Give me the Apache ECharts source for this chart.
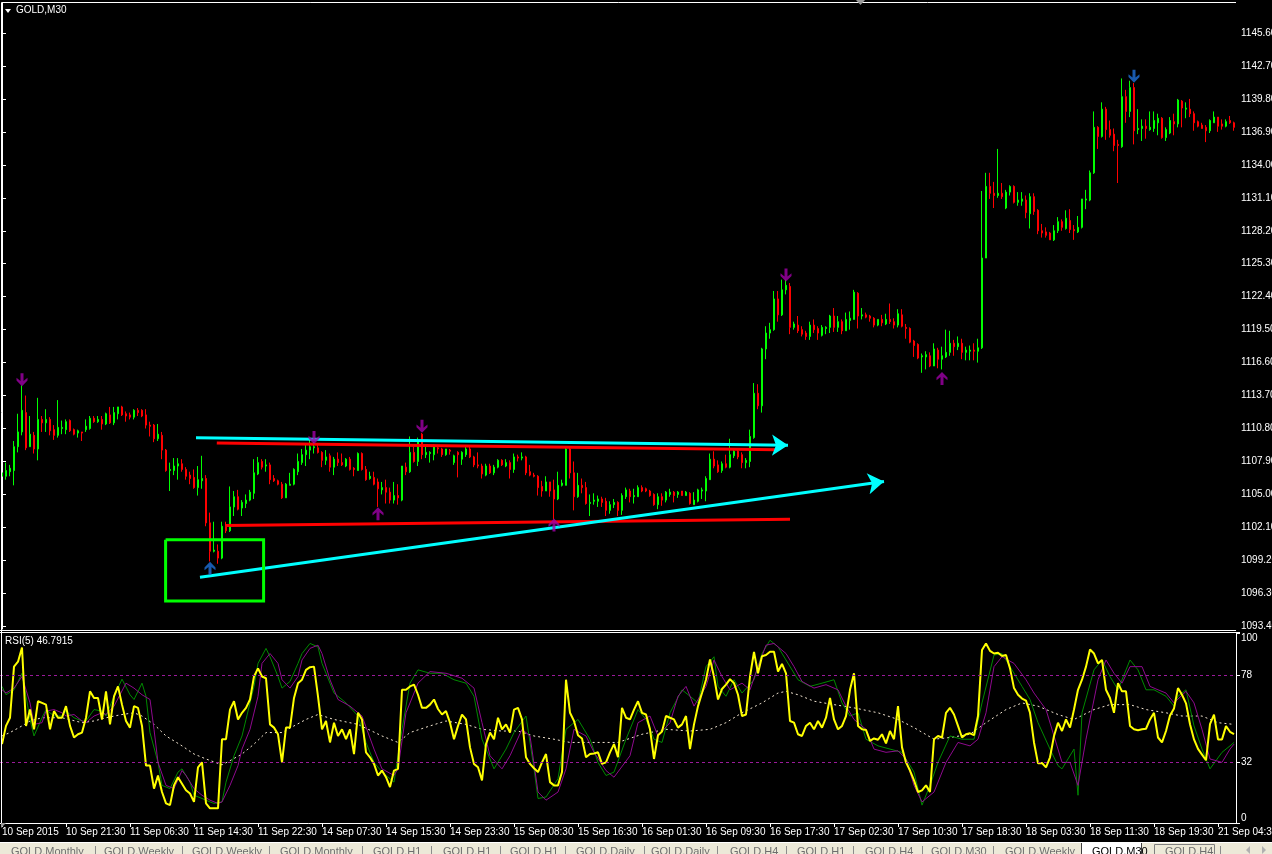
<!DOCTYPE html>
<html><head><meta charset="utf-8">
<script src="https://cdn.jsdelivr.net/npm/echarts@6/dist/echarts.min.js"></script>
<style>html,body{margin:0;padding:0;background:#000;overflow:hidden}#c{width:1272px;height:854px}</style>
</head><body><div id="c"></div>
<script>
// ---------- DATA ----------
const timeLabels = ['10 Sep 2015','10 Sep 21:30','11 Sep 06:30','11 Sep 14:30','11 Sep 22:30','14 Sep 07:30','14 Sep 15:30','14 Sep 23:30','15 Sep 08:30','15 Sep 16:30','16 Sep 01:30','16 Sep 09:30','16 Sep 17:30','17 Sep 02:30','17 Sep 10:30','17 Sep 18:30','18 Sep 03:30','18 Sep 11:30','18 Sep 19:30','21 Sep 04:30'];
const priceTicks = [1093.4,1096.3,1099.2,1102.1,1105.0,1107.9,1110.8,1113.7,1116.6,1119.5,1122.4,1125.3,1128.2,1131.1,1134.0,1136.9,1139.8,1142.7,1145.6];
const rsiTicks = [0,32,78,100];
const rsiLevels = [78,32];

const opens = [
1106.6,1106.6,1107.0,1107.1,1109.2,1110.5,1112.2,1109.2,1110.2,1109.0,
1111.6,1111.3,1111.6,1110.7,1110.2,1110.8,1110.7,1111.5,1110.7,1110.4,
1110.5,1110.7,1110.8,1111.7,1111.4,1111.6,1111.2,1112.0,1111.3,1112.1,
1112.7,1112.1,1112.0,1111.8,1112.4,1112.4,1112.0,1111.1,1111.1,1109.9,
1110.2,1108.9,1107.1,1107.1,1107.5,1107.7,1107.2,1106.7,1106.5,1105.6,
1106.2,1106.4,1102.5,1100.0,1100.0,1099.4,1102.2,1101.8,1103.9,1104.8,
1103.8,1104.2,1104.5,1105.1,1106.8,1107.9,1107.5,1107.6,1106.4,1106.2,
1105.9,1104.7,1105.8,1105.9,1107.0,1107.8,1108.5,1108.9,1109.1,1109.1,
1108.7,1108.0,1108.4,1107.4,1108.1,1107.8,1107.5,1108.1,1107.3,1107.1,
1108.6,1107.2,1106.4,1106.5,1106.1,1105.4,1105.6,1105.2,1104.5,1104.9,
1104.5,1107.4,1107.0,1108.7,1107.9,1110.3,1108.5,1108.6,1108.5,1109.1,
1109.0,1108.5,1108.9,1107.8,1108.7,1108.1,1108.5,1109.0,1108.3,1107.6,
1107.5,1106.7,1107.5,1106.9,1107.4,1108.0,1107.5,1107.8,1107.2,1108.3,
1108.2,1108.3,1107.0,1106.7,1106.6,1105.7,1105.3,1106.1,1105.4,1104.6,
1105.8,1105.8,1109.0,1106.9,1104.8,1105.8,1105.6,1104.2,1104.4,1104.4,
1104.6,1104.4,1103.6,1104.1,1104.3,1103.6,1104.8,1105.3,1104.8,1104.8,
1105.6,1105.5,1105.3,1105.0,1104.1,1104.8,1104.5,1105.0,1105.2,1105.0,
1105.3,1104.9,1105.1,1104.1,1104.4,1105.3,1105.3,1106.3,1108.1,1107.6,
1107.1,1107.7,1107.4,1108.4,1108.8,1108.5,1107.8,1107.9,1110.0,1113.9,
1112.8,1117.8,1119.2,1119.5,1122.2,1120.8,1123.0,1123.3,1119.7,1119.9,
1119.5,1119.2,1118.9,1119.9,1119.6,1119.0,1119.6,1119.7,1120.7,1119.7,
1120.2,1119.4,1120.3,1120.4,1122.7,1120.7,1120.8,1120.7,1120.5,1119.9,
1120.4,1120.0,1120.4,1120.2,1119.9,1120.8,1119.7,1119.6,1118.5,1118.2,
1117.1,1117.1,1117.2,1116.3,1117.7,1116.9,1117.1,1117.5,1118.3,1118.0,
1118.3,1117.5,1117.6,1117.7,1117.6,1117.9,1125.8,1132.1,1131.5,1131.3,
1131.5,1130.2,1131.6,1132.1,1130.7,1130.8,1130.9,1129.7,1131.2,1130.0,
1128.2,1128.1,1128.0,1127.4,1128.2,1129.0,1128.4,1129.1,1128.3,1128.1,
1128.5,1130.9,1130.9,1133.3,1137.3,1136.5,1138.9,1137.1,1136.7,1135.8,
1135.6,1140.0,1138.7,1140.8,1137.1,1137.2,1137.4,1137.1,1137.2,1137.7,
1138.1,1136.4,1136.8,1137.8,1137.6,1139.6,1138.9,1138.9,1138.5,1137.8,
1137.5,1137.3,1137.0,1137.7,1138.2,1137.6,1137.4,1137.9,1137.7];

const highs = [
1107.3,1107.8,1107.6,1109.7,1112.1,1114.6,1113.7,1111.9,1110.5,1113.5,
1111.9,1112.5,1111.8,1111.1,1113.3,1111.5,1111.6,1111.6,1110.8,1110.7,
1110.5,1111.6,1111.9,1111.9,1111.9,1111.9,1112.2,1112.7,1112.7,1112.7,
1112.8,1112.3,1112.2,1112.5,1112.6,1112.5,1112.5,1111.4,1111.2,1111.2,
1110.5,1109.0,1107.8,1108.2,1108.2,1108.1,1107.4,1107.0,1107.2,1107.5,
1108.4,1106.7,1103.4,1102.6,1100.6,1102.6,1102.6,1105.7,1105.3,1105.4,
1104.5,1105.0,1105.4,1108.1,1108.3,1108.1,1108.1,1107.8,1106.7,1106.3,
1106.1,1106.0,1106.9,1107.3,1108.6,1109.0,1109.5,1109.8,1109.6,1109.4,
1108.8,1108.9,1108.6,1108.3,1108.7,1108.6,1108.2,1108.3,1107.4,1108.7,
1108.7,1107.5,1107.0,1107.0,1106.4,1106.1,1106.3,1105.6,1106.1,1105.9,
1107.5,1107.8,1110.1,1109.2,1110.0,1110.4,1109.2,1108.8,1109.4,1109.2,
1109.1,1109.0,1109.0,1108.5,1108.8,1108.8,1109.2,1109.2,1108.4,1108.7,
1107.7,1107.7,1107.7,1107.6,1108.1,1108.1,1108.1,1108.0,1108.6,1108.5,
1108.7,1108.4,1107.6,1106.9,1106.7,1106.2,1106.6,1106.1,1106.3,1107.0,
1106.3,1109.1,1109.1,1107.9,1106.9,1106.4,1106.1,1105.0,1105.1,1104.9,
1104.8,1104.7,1104.4,1104.6,1104.4,1105.1,1105.6,1105.5,1105.5,1105.8,
1105.8,1105.6,1105.4,1105.1,1105.1,1105.1,1105.3,1105.5,1105.3,1105.3,
1105.3,1105.3,1105.2,1105.2,1105.5,1105.6,1106.6,1108.6,1108.8,1108.0,
1107.9,1108.5,1109.9,1108.9,1108.9,1108.7,1108.2,1110.7,1114.8,1114.7,
1117.9,1119.8,1120.1,1122.9,1122.9,1123.9,1123.9,1123.6,1120.2,1120.7,
1119.8,1119.4,1120.2,1120.4,1119.8,1119.9,1119.8,1120.8,1121.4,1120.7,
1120.4,1121.0,1121.1,1123.0,1122.8,1121.4,1121.0,1120.8,1120.6,1120.4,
1120.8,1120.9,1121.8,1120.5,1121.3,1121.3,1120.0,1119.7,1118.6,1118.3,
1117.4,1117.6,1117.5,1118.3,1117.9,1118.0,1119.5,1119.4,1118.6,1118.9,
1118.7,1118.0,1118.1,1118.3,1118.7,1131.7,1133.3,1133.3,1132.5,1135.4,
1132.4,1131.8,1132.2,1132.2,1131.6,1131.6,1131.3,1131.5,1131.5,1130.1,
1128.8,1128.5,1128.1,1128.7,1129.4,1129.2,1130.0,1130.1,1128.7,1129.5,
1131.0,1131.8,1133.5,1138.7,1137.4,1139.5,1139.1,1137.9,1137.2,1136.2,
1141.6,1140.6,1141.4,1141.2,1138.9,1138.0,1138.0,1138.7,1138.7,1138.5,
1138.2,1137.3,1138.2,1138.5,1139.8,1139.7,1139.5,1139.8,1138.7,1137.9,
1137.7,1137.5,1138.0,1138.7,1138.2,1138.0,1138.0,1138.3,1137.8];

const lows = [
1105.9,1106.3,1106.6,1105.8,1108.7,1110.2,1108.9,1109.2,1108.6,1108.0,
1110.5,1110.5,1110.2,1109.8,1110.0,1110.3,1110.3,1110.5,1110.2,1110.0,
1109.7,1110.5,1110.7,1111.3,1111.3,1110.7,1111.1,1111.2,1111.1,1111.6,
1111.9,1111.4,1111.6,1111.6,1111.9,1111.8,1110.8,1110.1,1109.6,1109.7,
1108.1,1107.0,1105.3,1106.7,1106.3,1107.0,1106.3,1105.9,1105.5,1104.9,
1105.5,1102.2,1099.1,1099.9,1098.9,1099.3,1101.6,1101.7,1103.1,1103.6,
1103.1,1103.8,1104.4,1104.6,1106.7,1107.2,1107.0,1105.9,1106.1,1105.8,
1104.6,1104.7,1105.8,1105.8,1106.7,1107.6,1107.5,1108.1,1108.6,1108.6,
1107.4,1107.6,1107.0,1106.7,1107.5,1107.5,1107.4,1107.1,1106.6,1107.1,
1107.1,1106.2,1106.3,1105.8,1103.9,1105.0,1104.2,1104.2,1104.2,1104.1,
1104.4,1106.7,1106.9,1107.8,1107.5,1108.1,1108.2,1107.8,1108.0,1108.6,
1108.3,1108.4,1108.5,1107.6,1106.5,1107.6,1108.3,1108.2,1107.4,1107.3,
1106.4,1106.6,1106.8,1106.7,1107.3,1107.5,1107.4,1106.4,1106.9,1107.9,
1108.0,1106.7,1106.6,1106.5,1104.9,1104.8,1105.3,1104.8,1102.8,1104.5,
1105.7,1105.8,1106.4,1103.6,1104.7,1105.1,1104.1,1103.1,1104.1,1103.9,
1103.9,1103.1,1103.3,1103.8,1103.1,1103.2,1104.6,1104.3,1104.2,1104.8,
1105.2,1105.2,1104.8,1104.0,1103.7,1104.0,1104.3,1104.8,1104.3,1104.7,
1104.9,1104.9,1104.1,1104.1,1104.3,1104.6,1104.4,1106.3,1107.3,1106.9,
1106.9,1107.3,1107.3,1108.2,1108.1,1107.3,1107.3,1107.4,1109.9,1112.5,
1112.2,1116.9,1118.7,1119.4,1120.2,1120.7,1122.6,1119.1,1119.5,1119.2,
1118.9,1118.6,1118.6,1119.2,1118.6,1118.9,1119.1,1119.2,1119.3,1119.3,
1119.1,1119.4,1119.5,1120.4,1119.6,1120.4,1120.5,1120.2,1119.7,1119.8,
1119.8,1119.9,1120.0,1119.6,1119.7,1119.7,1118.7,1118.3,1117.1,1116.9,
1115.7,1116.0,1116.2,1116.3,1116.1,1116.0,1117.0,1117.2,1117.2,1117.7,
1116.9,1116.8,1116.8,1116.8,1116.6,1117.8,1125.8,1131.0,1130.2,1131.1,
1131.0,1130.1,1131.3,1130.6,1130.4,1130.4,1129.3,1128.4,1129.6,1127.9,
1127.6,1127.6,1127.4,1127.3,1128.0,1128.2,1128.3,1128.0,1127.4,1128.0,
1128.4,1130.1,1130.8,1133.2,1135.4,1136.4,1136.2,1136.4,1135.2,1132.4,
1135.5,1137.7,1138.2,1135.8,1136.7,1136.1,1136.3,1137.0,1136.9,1136.6,
1136.3,1136.1,1136.7,1136.6,1137.3,1137.3,1138.1,1138.2,1137.0,1137.3,
1137.2,1136.0,1136.8,1137.7,1136.9,1137.1,1137.3,1137.6,1137.0];

const closes = [
1106.9,1107.1,1107.3,1109.2,1110.5,1112.4,1109.1,1110.3,1109.0,1111.6,
1111.3,1111.6,1110.6,1110.2,1110.9,1110.9,1111.4,1110.6,1110.3,1110.6,
1110.4,1111.0,1111.7,1111.4,1111.6,1111.2,1112.1,1111.3,1112.2,1112.7,
1112.0,1111.9,1111.8,1112.4,1112.2,1111.9,1111.1,1111.0,1109.9,1110.3,
1108.9,1107.1,1107.2,1107.5,1107.7,1107.2,1106.6,1106.4,1105.6,1106.3,
1106.4,1102.5,1100.0,1100.1,1099.4,1102.2,1101.8,1103.9,1104.8,1103.7,
1104.3,1104.5,1105.2,1106.9,1107.8,1107.4,1107.6,1106.3,1106.2,1105.9,
1104.7,1105.9,1105.9,1107.2,1107.9,1108.5,1108.9,1109.2,1109.2,1108.7,
1108.0,1108.3,1107.4,1108.1,1107.8,1107.6,1108.1,1107.2,1107.2,1108.6,
1107.2,1106.3,1106.6,1105.9,1105.5,1105.6,1105.2,1104.5,1104.9,1104.7,
1107.5,1107.0,1108.7,1107.9,1109.8,1108.5,1108.7,1108.7,1109.2,1109.0,
1108.5,1109.0,1108.8,1108.4,1108.5,1108.7,1109.0,1108.3,1107.6,1107.5,
1106.8,1107.5,1106.9,1107.4,1108.0,1107.6,1107.8,1107.2,1108.3,1108.2,
1108.3,1106.9,1106.7,1106.6,1105.6,1105.3,1106.1,1105.3,1104.6,1105.8,
1106.0,1109.0,1106.9,1104.8,1105.8,1105.6,1104.2,1104.3,1104.5,1104.6,
1104.3,1103.6,1104.1,1104.3,1103.6,1104.9,1105.4,1104.8,1104.9,1105.6,
1105.3,1105.3,1104.9,1104.1,1104.8,1104.5,1105.2,1105.2,1104.9,1105.2,
1104.9,1105.2,1104.2,1104.5,1105.4,1105.4,1106.4,1108.1,1107.5,1107.0,
1107.7,1107.4,1108.5,1108.8,1108.3,1107.8,1108.0,1110.1,1113.9,1112.8,
1117.8,1119.2,1119.5,1122.2,1120.8,1123.0,1123.4,1119.7,1120.0,1119.4,
1119.1,1118.9,1119.9,1119.5,1119.2,1119.7,1119.7,1120.7,1119.7,1120.2,
1119.4,1120.4,1120.5,1122.8,1120.7,1120.8,1120.6,1120.5,1119.9,1120.4,
1120.1,1120.4,1120.2,1119.9,1120.9,1119.8,1119.6,1118.4,1118.1,1117.0,
1117.2,1117.3,1116.3,1117.8,1116.9,1117.2,1117.5,1118.3,1118.0,1118.3,
1117.5,1117.7,1117.7,1117.6,1117.9,1125.8,1132.1,1131.5,1131.3,1131.5,
1131.2,1131.6,1132.1,1130.7,1130.9,1131.0,1129.8,1131.2,1129.9,1128.2,
1128.0,1127.8,1127.4,1128.2,1129.0,1128.5,1129.3,1128.3,1128.2,1128.5,
1131.0,1131.0,1133.3,1137.3,1136.5,1138.9,1137.1,1136.6,1135.7,1135.7,
1140.0,1138.7,1140.8,1137.0,1137.2,1137.4,1137.2,1137.3,1137.9,1138.1,
1136.4,1137.1,1137.9,1137.6,1139.7,1139.0,1139.0,1138.5,1137.7,1137.4,
1137.2,1137.0,1137.9,1138.2,1137.4,1137.4,1137.8,1137.7,1137.3];

// RSI(5) per bar
const rsiValues = [
41.5,51.1,55.4,82.3,84.9,92.4,51.1,59.7,49.3,64.1,
63.2,62.3,49.3,58.9,55.4,55.4,61.5,51.1,45.0,46.7,
47.6,55.4,69.3,65.8,65.8,54.5,69.3,51.9,66.7,71.9,
62.3,53.7,50.2,61.5,60.6,51.1,30.2,30.2,18.1,25.0,
16.3,10.3,9.4,19.8,24.1,20.7,17.2,15.5,11.1,29.3,
31.9,10.3,7.7,7.7,7.7,44.1,44.1,59.7,64.1,54.5,
58.0,60.6,65.0,77.1,81.4,77.1,76.2,51.9,50.2,46.7,
31.9,50.2,50.2,65.8,73.6,75.4,80.6,82.0,82.3,66.7,
49.3,53.7,42.4,52.8,45.8,49.3,44.1,49.3,36.3,58.0,
54.5,37.2,34.6,31.1,25.0,27.6,24.1,18.9,27.6,28.5,
70.1,70.1,71.9,72.8,67.5,60.6,60.6,62.3,65.0,60.0,
57.1,58.9,52.8,44.1,51.1,57.1,54.5,39.8,31.1,29.3,
22.4,41.5,47.6,44.1,55.4,49.3,51.9,47.6,59.7,60.6,
54.5,34.6,31.1,28.8,26.8,31.9,36.3,21.5,19.8,19.8,
26.8,75.4,58.0,53.7,46.2,44.5,34.6,36.3,36.6,37.2,
31.1,31.9,37.2,41.5,34.6,60.6,55.4,54.5,59.7,64.1,
58.0,57.1,49.3,33.7,46.2,48.1,56.3,55.4,54.5,50.2,
51.9,56.3,38.9,51.9,61.5,68.4,75.4,86.1,77.1,65.0,
70.5,72.8,75.7,73.6,67.5,56.3,57.1,77.1,90.1,78.8,
87.8,88.4,90.1,90.1,79.7,83.7,78.8,53.7,52.8,46.7,
45.8,51.1,52.8,49.3,53.7,50.2,55.4,65.8,54.5,49.3,
51.1,56.3,70.1,78.8,51.1,49.3,49.0,43.2,44.5,43.8,
46.7,41.9,48.4,44.1,61.5,39.8,31.9,27.6,22.4,16.3,
17.2,19.8,16.3,44.1,45.8,45.0,58.0,60.6,57.1,51.1,
45.0,46.7,47.2,46.2,56.3,91.0,94.5,90.6,89.2,89.6,
87.9,88.4,81.4,71.0,67.5,65.5,64.4,58.0,42.4,31.4,
31.6,29.3,34.6,45.8,52.8,48.4,54.5,50.2,59.7,70.1,
75.4,82.3,91.3,89.2,84.0,85.8,70.1,65.8,58.0,73.6,
69.3,69.3,51.1,49.3,48.8,49.3,49.6,54.5,58.0,45.0,
42.4,48.4,56.6,60.3,71.0,67.5,63.0,52.0,44.0,39.0,
36.0,33.0,52.0,57.0,44.0,44.0,51.0,48.0,46.8];

// smoothed signal lines read at sampled bars: [bar, value]
const greenLine = [[0,71.9],[1,67.5],[3,70.1],[5,78.8],[6,66.7],[7,54.5],[8,45.8],[10,55.4],[11,59.7],[13,56.3],[15,56.3],[16,58.9],[18,55.4],[20,53.7],[21,53.7],[23,59.7],[25,58.9],[26,56.3],[28,66.7],[30,75.7],[32,67.5],[33,65.0],[35,73.6],[36,66.7],[37,47.6],[39,31.9],[40,19.8],[42,18.1],[44,26.8],[45,28.5],[47,21.5],[48,14.6],[50,12.9],[52,11.1],[53,10.3],[55,11.1],[56,21.5],[58,35.4],[60,45.8],[61,54.5],[63,71.9],[64,84.0],[66,91.9],[67,87.5],[69,77.1],[70,71.0],[72,74.5],[74,84.0],[75,89.2],[77,94.5],[79,92.7],
[80,84.0],[83,68.4],[86,63.2],[89,56.3],[91,42.4],[93,31.9],[95,26.8],[98,21.5],[100,49.3],[102,73.6],[104,80.6],[107,78.8],[110,78.8],[113,75.4],[116,73.6],[118,66.7],[120,44.1],[123,28.5],[126,38.9],[128,47.6],[131,56.3],[133,28.5],[134,12.9],[136,13.7],[139,23.3],[141,49.3],[144,54.5],[147,44.1],[149,31.9],[151,25.0],[153,26.8],[156,44.1],[159,59.7],[161,54.5],[163,44.1],[165,42.4],[167,58.0],[170,70.1],[172,66.7],[174,63.2],[176,82.3],[178,87.5],[179,71.9],[181,66.7],[183,75.4],[185,68.4],[188,75.4],[190,89.2],[192,96.2],[194,92.7],[196,85.8],[199,75.4],[202,71.9],[205,73.6],[208,75.4],[210,63.2],[212,56.3],[214,58.0],[216,44.1],[219,40.6],[222,38.9],[225,37.2],[228,26.8],[230,9.4],[232,19.8],[234,31.9],[237,45.8],[240,44.1],[243,44.1],[245,63.2],[248,88.4],[250,89.2],[252,82.3],[255,71.9],[257,65.0],[259,52.8],[262,38.9],[264,30.2],[265,28.5],[268,38.9],[269,14.6],[270,58.0],[273,80.6],[275,85.8],[277,77.1],[279,70.1],[282,85.8],[284,80.6],[286,70.1],[288,70.1],[291,66.7],[293,61.5],[294,66.7],[296,70.1],[298,51.1],[300,38.9],[302,28.5],[305,37.2],[307,40.6],[308,42.4]];

const purpleLine = [[0,70.1],[1,68.4],[3,71.0],[5,77.1],[7,63.2],[8,51.9],[10,52.8],[11,58.9],[13,59.7],[15,58.0],[16,56.3],[18,57.1],[20,53.7],[21,52.8],[23,56.3],[25,58.0],[26,57.1],[28,61.5],[31,73.6],[33,71.0],[35,67.5],[37,65.0],[38,49.3],[39,31.9],[41,19.8],[43,18.1],[45,27.6],[46,25.0],[48,18.1],[50,14.6],[52,12.0],[54,10.3],[55,11.1],[57,19.8],[59,30.2],[60,38.9],[62,49.3],[64,66.7],[65,84.0],[67,89.2],[69,84.0],[70,75.4],[72,71.0],[74,77.1],[75,85.8],[77,91.9],[79,93.6],
[80,89.2],[82,75.4],[84,65.0],[87,61.5],[90,56.3],[93,38.9],[95,28.5],[98,25.0],[99,28.5],[101,58.0],[104,73.6],[107,79.7],[111,78.8],[115,76.2],[118,71.0],[120,52.8],[122,35.4],[125,28.5],[127,35.4],[130,49.3],[132,45.8],[134,16.3],[136,12.0],[139,16.3],[141,28.5],[143,49.3],[146,45.8],[148,37.2],[151,27.6],[153,24.1],[157,35.4],[159,52.8],[162,56.3],[164,45.8],[167,52.8],[169,66.7],[171,71.9],[173,61.5],[176,71.9],[178,85.8],[180,77.1],[182,70.1],[185,73.6],[187,70.1],[189,82.3],[191,93.6],[193,94.5],[196,89.2],[198,82.3],[200,74.5],[203,71.0],[206,72.8],[209,70.1],[211,61.5],[213,54.5],[216,49.3],[218,38.9],[221,37.2],[224,38.0],[226,33.7],[228,19.8],[230,11.1],[233,16.3],[236,31.9],[239,42.4],[242,40.6],[244,44.1],[246,58.0],[248,82.3],[250,87.5],[253,84.0],[256,75.4],[258,68.4],[261,59.7],[263,45.8],[265,31.9],[267,31.9],[269,19.8],[271,44.1],[274,75.4],[276,85.8],[278,78.8],[280,73.6],[282,82.3],[285,82.3],[287,71.9],[289,70.1],[291,68.4],[293,63.2],[296,69.3],[298,63.2],[300,49.3],[302,33.7],[305,31.9],[307,38.9],[308,41.5]];

const slowLine = [[0,45.8],[2,47.6],[5,51.1],[7,53.7],[10,55.4],[15,55.4],[20,52.8],[23,53.7],[26,55.4],[30,57.1],[33,58.0],[35,56.3],[38,51.9],[41,45.8],[45,40.6],[48,36.3],[51,33.7],[55,30.6],[57,32.8],[60,36.3],[63,41.5],[66,47.6],[70,47.6],[73,51.1],[76,54.5],[79,57.1],[83,54.5],[89,51.9],[95,45.8],[99,42.4],[102,47.6],[107,51.1],[111,53.7],[116,51.9],[120,49.3],[125,48.4],[129,48.4],[133,45.8],[138,44.1],[142,42.4],[148,42.4],[154,42.4],[160,46.7],[166,49.3],[172,48.4],[177,49.3],[181,52.8],[185,58.0],[190,63.2],[194,68.4],[196,69.3],[199,67.5],[203,64.1],[208,62.3],[213,60.6],[219,58.0],[224,54.5],[228,50.2],[233,44.1],[237,45.0],[242,46.7],[246,52.8],[251,59.7],[255,63.2],[259,61.5],[264,57.1],[268,54.5],[273,59.7],[277,62.3],[282,62.3],[286,59.7],[291,58.0],[295,56.3],[300,56.3],[304,52.8],[308,51.9]];

// drawn objects, in [bar, price]
const cyanLines = [[[48.5,1109.98],[196.5,1109.32]], [[49.5,1097.71],[220.5,1106.13]]];
const redLines = [[[53.7,1109.52],[194,1108.93]], [[56,1102.26],[197,1102.82]]];
const boxCorners = [[40.9,1101.02],[65.4,1095.62]];
const arrowMarks = [[5,1115.1,-1],[52,1098.5,1],[78,1110.0,-1],[94,1103.3,1],[105,1111.0,-1],[138,1102.3,1],[196,1124.3,-1],[235,1115.2,1],[283,1141.8,-1]];
const blueArrowBars = [52,283];
const tabLabels = ['GOLD,Monthly','GOLD,Weekly','GOLD,Weekly','GOLD,Monthly','GOLD,H1','GOLD,H1','GOLD,H1','GOLD,Daily','GOLD,Daily','GOLD,H4','GOLD,H1','GOLD,H4','GOLD,M30','GOLD,Weekly','GOLD,M30','GOLD,H4'];
const activeTab = 14;

// ---------- LAYOUT / STYLE ----------
const FONT = '"Liberation Sans", Arial, sans-serif';
const tabX = [11,104,192,280,373,443,510,576,651,730,797,865,931,1005,1092,1165];
const sepX = [95,182,269,362,431,500,565,644,717,786,853,922,993,1220];

const N = opens.length;
const cats = opens.map((_, i) => i);
const candleData = opens.map((o, i) => [o, closes[i], lows[i], highs[i]]);
const arrowPath = 'path://M5.5,0 L11,6 L11,9 L7,5.5 L7,14 L4,14 L4,5.5 L0,9 L0,6 Z';

const graphics = [];
const white = '#ffffff';
function hline(x1, x2, y, c) { graphics.push({type:'line', silent:true, shape:{x1:x1,y1:y,x2:x2,y2:y}, style:{stroke:c||white, lineWidth:1}, z:100}); }
function vline(x, y1, y2, c) { graphics.push({type:'line', silent:true, shape:{x1:x,y1:y1,x2:x,y2:y2}, style:{stroke:c||white, lineWidth:1}, z:100}); }
hline(1.5, 1236, 2.5);
vline(1.5, 2.5, 823);
hline(0, 1236, 630.5);
hline(0, 1240, 632.5);
// title
graphics.push({type:'polygon', silent:true, shape:{points:[[5,9],[11,9],[8,13]]}, style:{fill:white}, z:100});
graphics.push({type:'text', silent:true, x:16, y:5, style:{text:'GOLD,M30', fill:white, font:'10px ' + FONT, verticalAlign:'top', textVerticalAlign:'top'}, z:100});
graphics.push({type:'text', silent:true, x:5, y:636, style:{text:'RSI(5) 46.7915', fill:white, font:'10px ' + FONT, verticalAlign:'top', textVerticalAlign:'top'}, z:100});
// small markers
graphics.push({type:'polygon', silent:true, shape:{points:[[856,0],[865,0],[860.5,5]]}, style:{fill:'#9a9a9a'}, z:100});
graphics.push({type:'polygon', silent:true, shape:{points:[[1,823],[6,823],[1,828]]}, style:{fill:'#9a9a9a'}, z:100});
// tab strip
graphics.push({type:'rect', silent:true, shape:{x:0,y:843,width:1272,height:11}, style:{fill:'#ece9d8'}, z:90});
hline(0, 1272, 842.5, '#ffffff');
sepX.forEach(x => vline(x + 0.5, 846, 854, '#8c8c8c'));
graphics.push({type:'rect', silent:true, shape:{x:1081.5,y:842.5,width:60,height:12}, style:{fill:'#ffffff', stroke:'#404040', lineWidth:1}, z:95});
graphics.push({type:'rect', silent:true, shape:{x:1154.5,y:844.5,width:60,height:10}, style:{fill:'none', stroke:'#808080', lineWidth:1}, z:95});
tabLabels.forEach((t, i) => {
  graphics.push({type:'text', silent:true, x:tabX[i], y:846, style:{text:t, fill: i === activeTab ? '#000000' : '#6e6e6e', font:'11px ' + FONT, verticalAlign:'top', textVerticalAlign:'top'}, z:101});
});
graphics.push({type:'polygon', silent:true, shape:{points:[[1250,846],[1250,854],[1246,850]]}, style:{fill:'#b0b0b0'}, z:101});
graphics.push({type:'polygon', silent:true, shape:{points:[[1262,846],[1262,854],[1266,850]]}, style:{fill:'#b0b0b0'}, z:101});

const option = {
  backgroundColor: '#000000',
  animation: false,
  grid: [
    {left:0, top:3, width:1236, height:626, containLabel:false, outerBoundsMode:'none'},
    {left:0, top:633, width:1236, height:190, containLabel:false, outerBoundsMode:'none'}
  ],
  xAxis: [
    {type:'category', gridIndex:0, data:cats, boundaryGap:true, axisLine:{show:false}, axisTick:{show:false}, axisLabel:{show:false}, splitLine:{show:false}},
    {type:'category', gridIndex:1, data:cats, boundaryGap:true,
      axisLine:{show:true, lineStyle:{color:white, width:1}},
      axisTick:{show:true, interval:15, alignWithLabel:true, length:4, lineStyle:{color:white}},
      axisLabel:{show:true, interval:15, align:'left', margin:4, color:white, fontSize:10, fontFamily:FONT,
        formatter:(v, i) => timeLabels[i / 16] || ''},
      splitLine:{show:false}},
    {type:'value', gridIndex:0, min:-0.5, max:N - 0.5, show:false}
  ],
  yAxis: [
    {type:'value', gridIndex:0, position:'right', min:1093.16, max:1148.24, scale:true,
      axisLine:{show:true, lineStyle:{color:white}},
      axisTick:{show:true, length:4, customValues:priceTicks, lineStyle:{color:white}},
      axisLabel:{show:true, customValues:priceTicks, color:white, fontSize:10, fontFamily:FONT, margin:5, formatter:v => Number(v).toFixed(2)},
      splitLine:{show:false}},
    {type:'value', gridIndex:1, position:'right', min:0, max:100,
      axisLine:{show:true, lineStyle:{color:white}},
      axisTick:{show:true, length:4, customValues:rsiTicks, lineStyle:{color:white}},
      axisLabel:{show:true, customValues:rsiTicks, color:white, fontSize:10, fontFamily:FONT, margin:5,
        verticalAlignMaxLabel:'top', verticalAlignMinLabel:'bottom'},
      splitLine:{show:false}}
  ],
  series: [
    {type:'candlestick', name:'GOLD', xAxisIndex:0, yAxisIndex:0, data:candleData, barWidth:2, silent:true,
      itemStyle:{color:'#66cc33', color0:'#dc3c55', borderColor:'#00ff00', borderColor0:'#ff0000', borderColorDoji:'#00ff00', borderWidth:1}},
    {type:'lines', coordinateSystem:'cartesian2d', xAxisIndex:2, yAxisIndex:0, silent:true, z:5,
      symbol:'none', lineStyle:{color:'#ff0000', width:3, opacity:1, curveness:0},
      data: redLines.map(c => ({coords:c}))},
    {type:'lines', coordinateSystem:'cartesian2d', xAxisIndex:2, yAxisIndex:0, silent:true, z:6,
      symbol:['none','arrow'], symbolSize:[11,16], lineStyle:{color:'#00ffff', width:3, opacity:1, curveness:0},
      data: cyanLines.map(c => ({coords:c}))},
    {type:'lines', coordinateSystem:'cartesian2d', xAxisIndex:2, yAxisIndex:0, silent:true, polyline:true, z:6,
      symbol:'none', lineStyle:{color:'#00ff00', width:3, opacity:1},
      data: [{coords:[[boxCorners[0][0],boxCorners[0][1]],[boxCorners[1][0],boxCorners[0][1]],[boxCorners[1][0],boxCorners[1][1]],[boxCorners[0][0],boxCorners[1][1]],[boxCorners[0][0],boxCorners[0][1]]]}]},
    {type:'scatter', xAxisIndex:2, yAxisIndex:0, silent:true, z:7, symbolSize:[11,13],
      data: arrowMarks.map(a => ({value:[a[0], a[1]], symbol:arrowPath, symbolRotate: a[2] < 0 ? 180 : 0,
        itemStyle:{color: blueArrowBars.indexOf(a[0]) >= 0 ? '#1f70d8' : '#a000a8'}}))},
    {type:'line', xAxisIndex:1, yAxisIndex:1, data:slowLine, symbol:'none', silent:true, z:3,
      lineStyle:{color:'#f3e6d2', width:1, type:[2,3]}},
    {type:'line', xAxisIndex:1, yAxisIndex:1, data:greenLine, symbol:'none', silent:true, z:3,
      lineStyle:{color:'#008a00', width:1}},
    {type:'line', xAxisIndex:1, yAxisIndex:1, data:purpleLine, symbol:'none', silent:true, z:3,
      lineStyle:{color:'#8e0a8e', width:1}},
    {type:'line', name:'RSI(5)', xAxisIndex:1, yAxisIndex:1, data:rsiValues, symbol:'none', silent:true, z:4,
      lineStyle:{color:'#ffff00', width:2},
      markLine:{silent:true, symbol:'none', label:{show:false}, animation:false,
        lineStyle:{color:'#9a1a9a', width:1, type:[3,3]},
        data: rsiLevels.map(v => ({yAxis:v}))}}
  ],
  graphic: graphics
};

const chart = echarts.init(document.getElementById('c'), null, {renderer:'canvas', width:1272, height:854});
chart.setOption(option);
</script>
</body></html>
